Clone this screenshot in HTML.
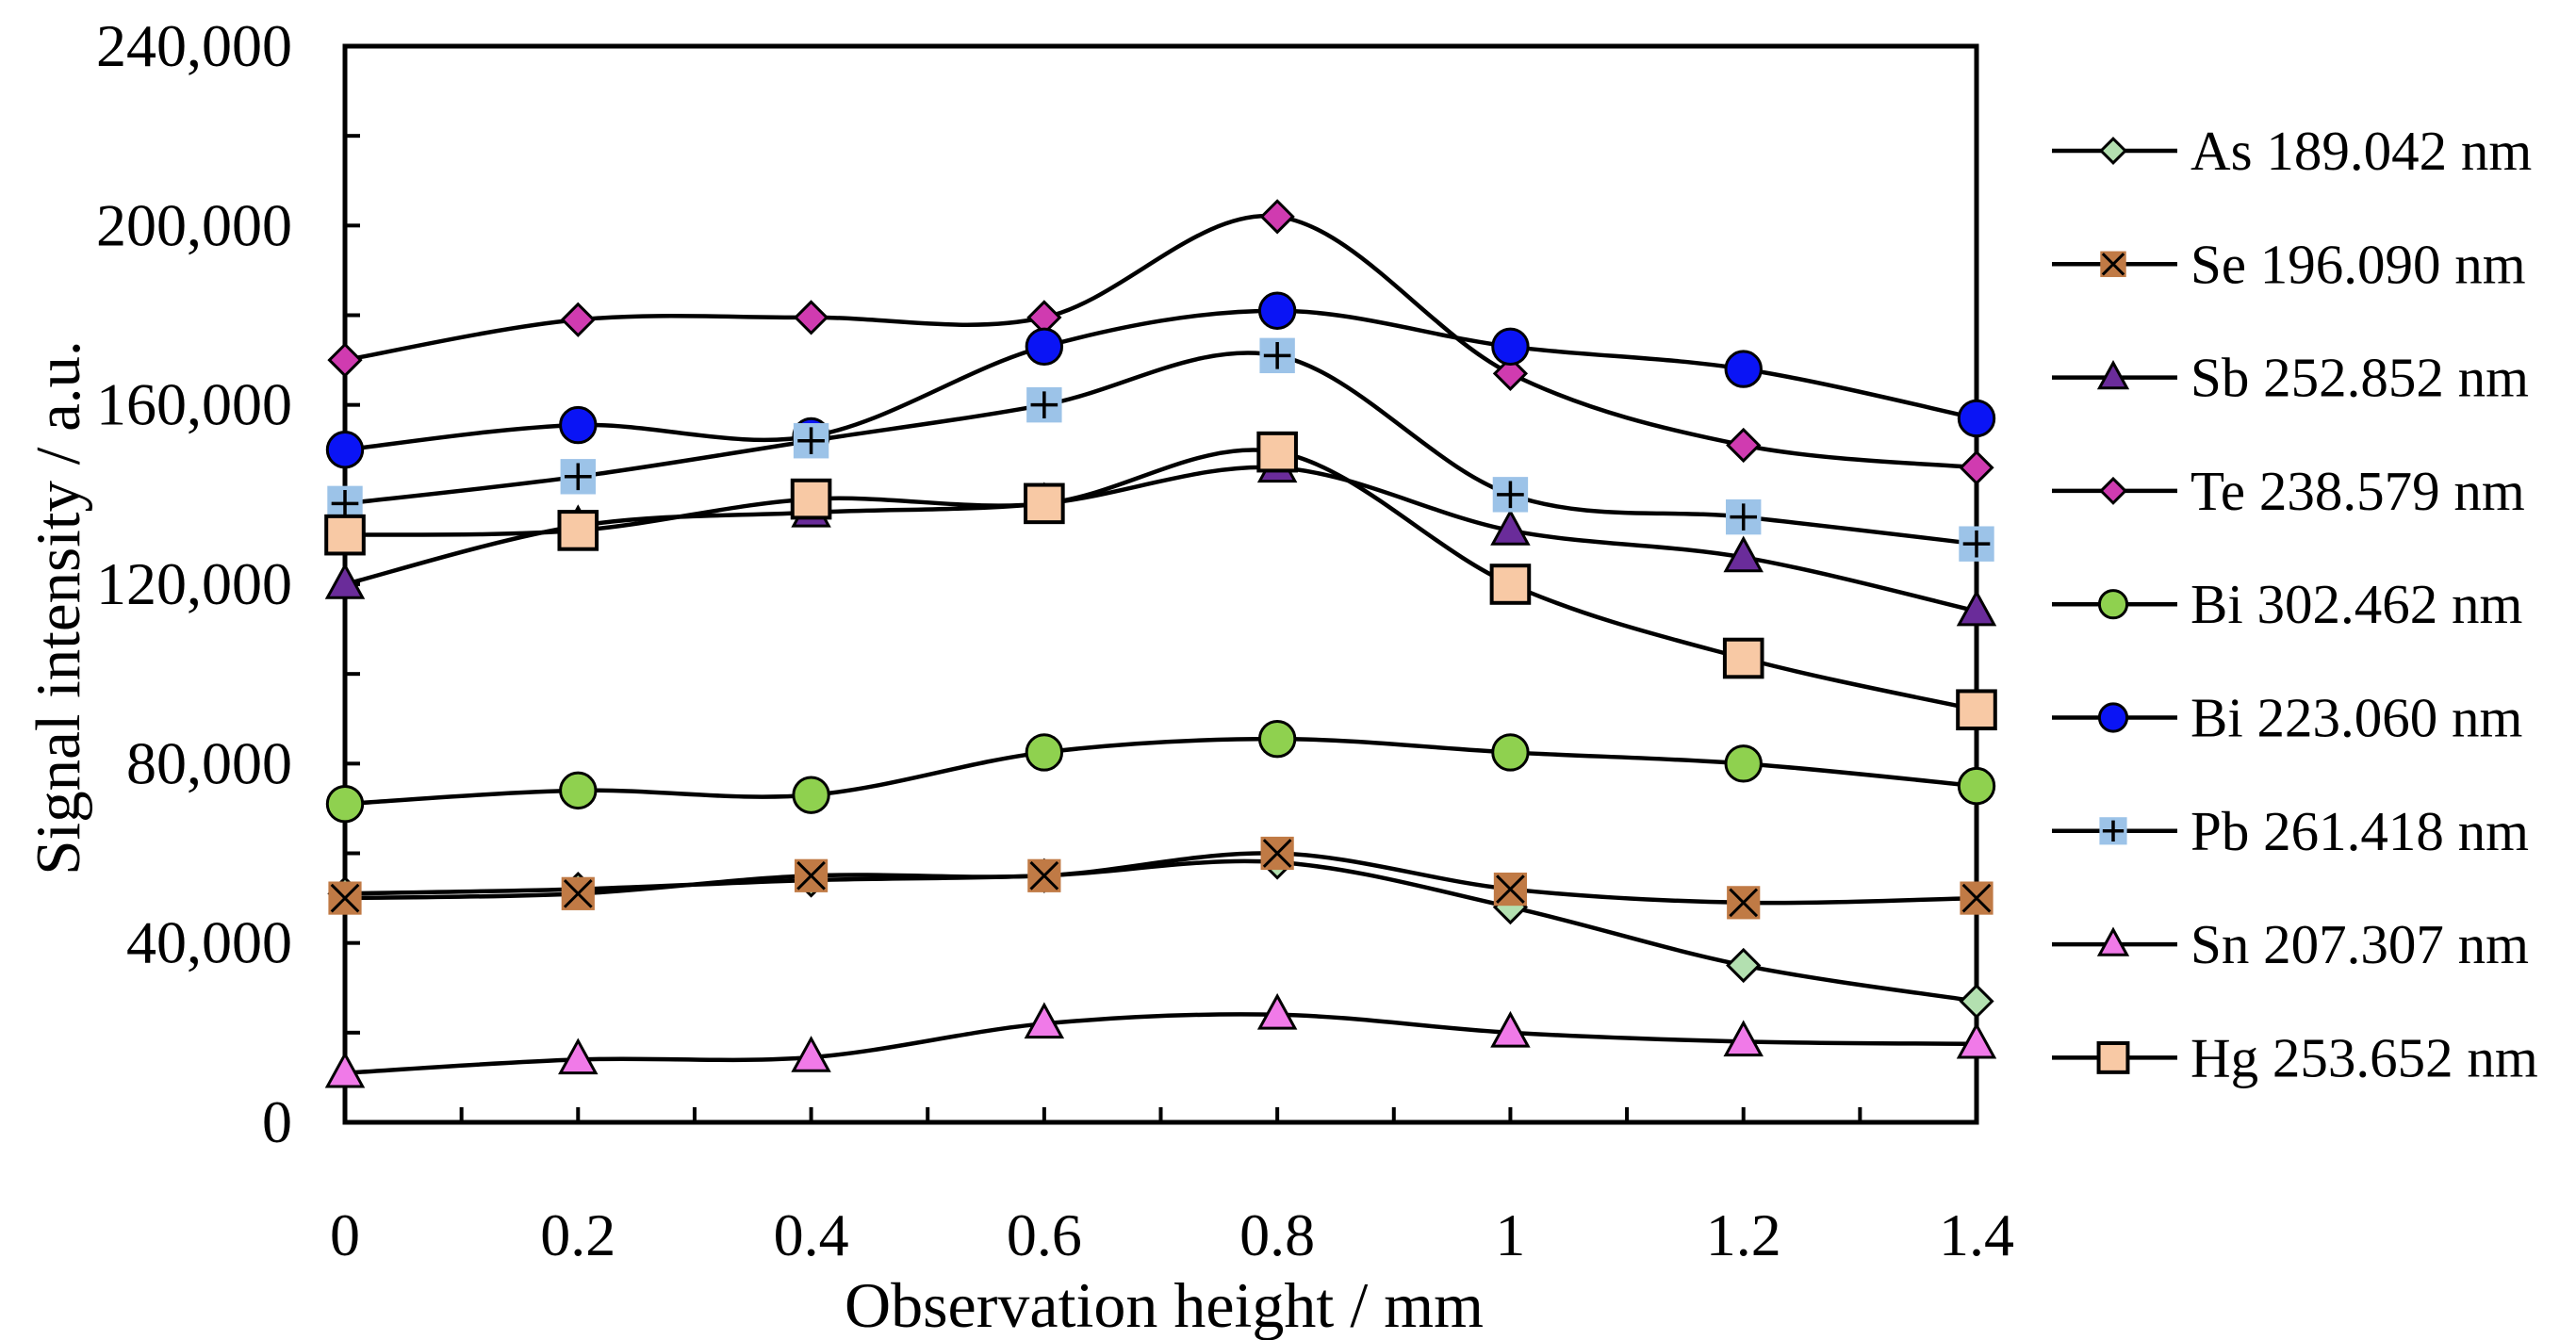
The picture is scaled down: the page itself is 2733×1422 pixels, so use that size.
<!DOCTYPE html>
<html><head><meta charset="utf-8"><style>
html,body{margin:0;padding:0;background:#fff;}
svg{display:block;font-family:"Liberation Serif",serif;}
</style></head><body>
<svg id="chart" width="2733" height="1422" viewBox="0 0 2733 1422">
<g id="frame"></g><g id="series"></g><g id="legend"></g>
</svg>
<script>
const xValues=[0,0.2,0.4,0.6,0.8,1,1.2,1.4];
const xTickLabels=["0","0.2","0.4","0.6","0.8","1","1.2","1.4"];
const yTickValues=[0,40000,80000,120000,160000,200000,240000];
const yTickLabels=["0","40,000","80,000","120,000","160,000","200,000","240,000"];
const seriesNames=["As 189.042 nm","Se 196.090 nm","Sb 252.852 nm","Te 238.579 nm","Bi 302.462 nm","Bi 223.060 nm","Pb 261.418 nm","Sn 207.307 nm","Hg 253.652 nm"];
const asValues=[51000,52000,54000,55000,58000,48000,35000,27000];
const seValues=[50000,51000,55000,55000,60000,52000,49000,50000];
const sbValues=[120000,133000,136000,138000,146000,132000,126000,114000];
const teValues=[170000,179000,179500,179500,202000,167000,151000,146000];
const bi302Values=[71000,74000,73000,82500,85500,82500,80000,75000];
const bi223Values=[150000,155500,153000,173000,181000,173000,168000,157000];
const pbValues=[138000,144000,152000,160000,171000,140000,135000,129000];
const snValues=[11000,14000,14500,22000,24000,20000,18000,17500];
const hgValues=[131000,132000,139000,138000,149500,120000,103500,92000];

const NS="http://www.w3.org/2000/svg";
const L=366,R=2097,T=49,B=1191;
const xs=v=>L+(v/1.4)*(R-L);
const ys=v=>B-(v/240000)*(B-T);
function mk(tag,attrs,parent){const e=document.createElementNS(NS,tag);for(const k in attrs)e.setAttribute(k,attrs[k]);parent.appendChild(e);return e;}
const frame=document.getElementById('frame');
const sg=document.getElementById('series');
const lg=document.getElementById('legend');

let box=mk('rect',{x:L,y:T,width:R-L,height:B-T,fill:'none',stroke:'#000','stroke-width':5},frame);


for(let i=0;i<=12;i++){const v=i*20000;const y=ys(v);
 const t=mk('line',{x1:L,x2:L+16,y1:y,y2:y,stroke:'#000','stroke-width':4},frame);
 
 }
yTickValues.forEach((v,i)=>{const t=mk('text',{x:L-56,y:ys(v)+21,'text-anchor':'end','font-size':64,fill:'#000'},frame);t.textContent=yTickLabels[i];
 
 });
for(let i=0;i<=14;i++){const x=xs(i*0.1);
 const t=mk('line',{x1:x,x2:x,y1:B,y2:B-16,stroke:'#000','stroke-width':4},frame);
 
 }
xValues.forEach((v,i)=>{const t=mk('text',{x:xs(v),y:1332,'text-anchor':'middle','font-size':64,fill:'#000'},frame);t.textContent=xTickLabels[i];
 
 });
let xt=mk('text',{x:1235,y:1408,'text-anchor':'middle','font-size':68,fill:'#000'},frame);xt.textContent="Observation height / mm";


let yt=mk('text',{x:0,y:0,'text-anchor':'middle','font-size':67,fill:'#000',transform:'translate(84,645) rotate(-90)'},frame);yt.textContent="Signal intensity / a.u.";



function marker(type,x,y,parent,s){
 s=(s||1)*1.1;
 const st={stroke:'#000','stroke-width':3};
 if(type==='diamond-g')return mk('polygon',Object.assign({points:`${x},${y-15*s} ${x+15*s},${y} ${x},${y+15*s} ${x-15*s},${y}`,fill:'#b3e0b0'},st),parent);
 if(type==='diamond-m')return mk('polygon',Object.assign({points:`${x},${y-15*s} ${x+15*s},${y} ${x},${y+15*s} ${x-15*s},${y}`,fill:'#d03bb0'},st),parent);
 if(type==='xsq'){const g=mk('g',{},parent);mk('rect',{x:x-16*s,y:y-16*s,width:32*s,height:32*s,fill:'#c07a45'},g);
  mk('path',{d:`M${x-13*s},${y-13*s}L${x+13*s},${y+13*s}M${x+13*s},${y-13*s}L${x-13*s},${y+13*s}`,stroke:'#000','stroke-width':3},g);return g;}
 if(type==='tri-p')return mk('polygon',Object.assign({points:`${x},${y-18*s} ${x+17*s},${y+13*s} ${x-17*s},${y+13*s}`,fill:'#6a2c9a'},st),parent);
 if(type==='tri-pink')return mk('polygon',Object.assign({points:`${x},${y-18*s} ${x+17*s},${y+13*s} ${x-17*s},${y+13*s}`,fill:'#f07ae8'},st),parent);
 if(type==='circ-g')return mk('circle',Object.assign({cx:x,cy:y,r:17*s,fill:'#8fd14f'},st),parent);
 if(type==='circ-b')return mk('circle',Object.assign({cx:x,cy:y,r:17*s,fill:'#0a14f5'},st),parent);
 if(type==='plus'){const g=mk('g',{},parent);mk('rect',{x:x-17*s,y:y-17*s,width:34*s,height:34*s,fill:'#9cc3e8'},g);
  mk('path',{d:`M${x-13*s},${y}L${x+13*s},${y}M${x},${y-13*s}L${x},${y+13*s}`,stroke:'#000','stroke-width':3.5},g);return g;}
 if(type==='sq')return mk('rect',Object.assign({x:x-18*s,y:y-18*s,width:36*s,height:36*s,fill:'#f8c9a5'},st,{'stroke-width':4}),parent);
}
function spline(pts){let d=`M${pts[0][0]},${pts[0][1]}`;
 for(let i=0;i<pts.length-1;i++){const p0=pts[Math.max(i-1,0)],p1=pts[i],p2=pts[i+1],p3=pts[Math.min(i+2,pts.length-1)];
  const c1=[p1[0]+(p2[0]-p0[0])/6,p1[1]+(p2[1]-p0[1])/6],c2=[p2[0]-(p3[0]-p1[0])/6,p2[1]-(p3[1]-p1[1])/6];
  d+=`C${c1[0]},${c1[1]} ${c2[0]},${c2[1]} ${p2[0]},${p2[1]}`;}return d;}
const allSeries=[asValues,seValues,sbValues,teValues,bi302Values,bi223Values,pbValues,snValues,hgValues];
const types=['diamond-g','xsq','tri-p','diamond-m','circ-g','circ-b','plus','tri-pink','sq'];
const keys=['as','se','sb','te','bi302','bi223','pb','sn','hg'];
allSeries.forEach((vals,si)=>{
 const g=mk('g',{},sg);
 
 
 const pts=vals.map((v,i)=>[xs(xValues[i]),ys(v)]);
 const p=mk('path',{d:spline(pts),fill:'none',stroke:'#000','stroke-width':4.5},g);
 
 
 pts.forEach(pt=>{const m=marker(types[si],pt[0],pt[1],g);
  
  });
});
seriesNames.forEach((n,i)=>{
 const y=160+i*120.3;
 const g=mk('g',{},lg);
 
 
 mk('line',{x1:2177,x2:2310,y1:y,y2:y,stroke:'#000','stroke-width':4.5},g);
 marker(types[i],2242,y,g,0.78);
 const t=mk('text',{x:2324,y:y+20,'font-size':59,fill:'#000'},g);t.textContent=n;
});
</script>
</body></html>
